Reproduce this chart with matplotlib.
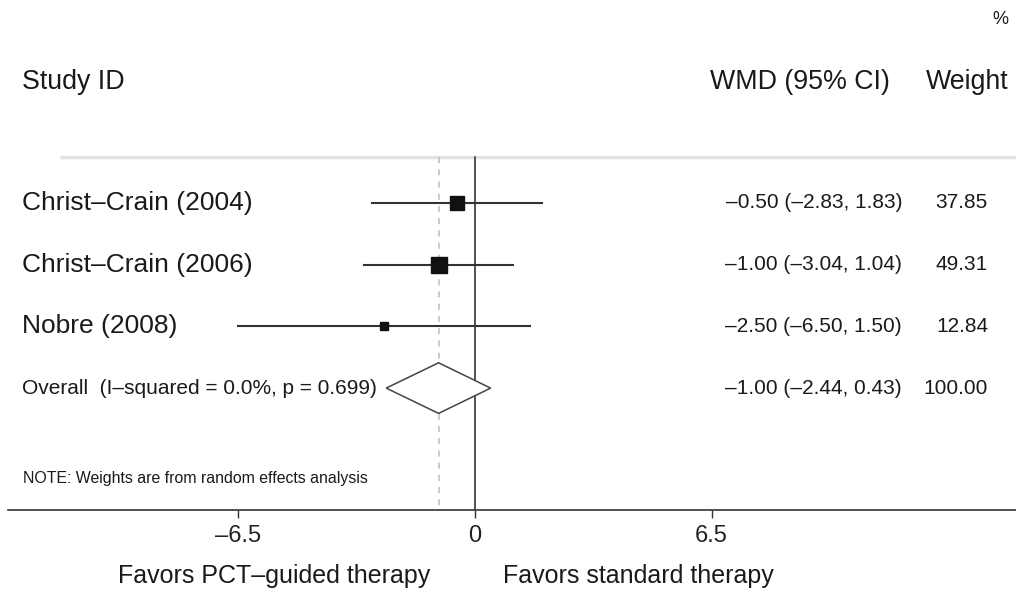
import matplotlib
matplotlib.use("Agg")
import matplotlib.pyplot as plt
import numpy as np

plt.rcParams["font.family"] = ["Liberation Sans", "DejaVu Sans"]

studies = ["Christ\u2013Crain (2004)", "Christ\u2013Crain (2006)", "Nobre (2008)"]
wmd = [-0.50, -1.00, -2.50]
ci_low = [-2.83, -3.04, -6.50]
ci_high = [1.83, 1.04, 1.50]
weights = [37.85, 49.31, 12.84]

overall_label = "Overall  (I\u2013squared = 0.0%, p = 0.699)"
overall_wmd = -1.00
overall_low = -2.44
overall_high = 0.43
overall_weight = 100.00

xticks = [-6.5, 0, 6.5]
xtick_labels = ["\u20136.5", "0", "6.5"]
note = "NOTE: Weights are from random effects analysis"
favors_left = "Favors PCT\u2013guided therapy"
favors_right = "Favors standard therapy"

W, H = 1016, 597
PX_PER_UNIT = 36.4
ZERO_PX = 475
ROW0_PX, ROW_STEP = 203, 61.7
AXIS_PX = 510
TXT = "#1a1a1a"


def px_x(p):
    return (p - ZERO_PX) / PX_PER_UNIT


def px_y(p):
    return 1 + (p - ROW0_PX) / ROW_STEP


def fmt(v):
    return f"{v:.2f}".replace("-", "\u2013")


fig = plt.figure(figsize=(W / 100, H / 100), dpi=100)
left = 8 / W
ax = fig.add_axes([left, (H - AXIS_PX) / H, 1 - left, AXIS_PX / H])
ax.set_xlim(px_x(8), px_x(W))
ax.set_ylim(px_y(AXIS_PX), px_y(0))
for s in ["top", "left", "right"]:
    ax.spines[s].set_visible(False)
ax.spines["bottom"].set_color("#333333")
ax.spines["bottom"].set_linewidth(1.2)
ax.set_yticks([])
ax.set_xticks(xticks)
ax.set_xticklabels(xtick_labels, fontsize=17, color="#222222")
ax.tick_params(axis="x", length=6, width=1, color="#333333", pad=5)

rows = np.arange(1, len(studies) + 1)
overall_row = len(studies) + 1
top_line = px_y(157)

# reference lines
ax.plot([px_x(60), px_x(W)], [top_line, top_line], color="#e3e3e3", lw=2.5,
        solid_capstyle="butt", clip_on=False)
ax.plot([0, 0], [top_line, px_y(AXIS_PX)], color="#222222", lw=1.1)
ax.plot([overall_wmd, overall_wmd], [top_line, px_y(AXIS_PX)], color="#bdbdbd",
        lw=1.1, ls=(0, (4, 4)))

# studies
for r, name, e, lo, hi, w in zip(rows, studies, wmd, ci_low, ci_high, weights):
    ax.plot([lo, hi], [r, r], color="#333333", lw=1.5)
    ax.plot(e, r, marker="s", ms=np.sqrt(w) * 1.74, color="#111111", mec="#111111")
    ax.text(px_x(22), r, name, fontsize=19, va="center", ha="left", color=TXT)
    ax.text(px_x(902), r, f"{fmt(e)} ({fmt(lo)}, {fmt(hi)})", fontsize=15,
            va="center", ha="right", color=TXT)
    ax.text(px_x(988), r, f"{w:.2f}", fontsize=15, va="center", ha="right", color=TXT)

# overall diamond
half_h = 0.41
ax.fill([overall_low, overall_wmd, overall_high, overall_wmd, overall_low],
        [overall_row, overall_row - half_h, overall_row, overall_row + half_h, overall_row],
        facecolor="white", edgecolor="#444444", lw=1.1, zorder=3)
ax.text(px_x(22), overall_row, overall_label, fontsize=15, va="center", ha="left", color=TXT)
ax.text(px_x(902), overall_row,
        f"{fmt(overall_wmd)} ({fmt(overall_low)}, {fmt(overall_high)})",
        fontsize=15, va="center", ha="right", color=TXT)
ax.text(px_x(988), overall_row, f"{overall_weight:.2f}", fontsize=15,
        va="center", ha="right", color=TXT)

# headers
hdr_y = px_y(82)
ax.text(px_x(22), hdr_y, "Study ID", fontsize=19.3, va="center", ha="left", color=TXT)
ax.text(px_x(890), hdr_y, "WMD (95% CI)", fontsize=19.3, va="center", ha="right", color=TXT)
ax.text(px_x(1008), hdr_y, "Weight", fontsize=19.3, va="center", ha="right", color=TXT)
ax.text(px_x(1008), px_y(20), "%", fontsize=13, va="center", ha="right", color=TXT)

ax.text(px_x(23), px_y(479), note, fontsize=11.4, va="center", ha="left", color=TXT)

# favors labels
fig.text(430 / W, 1 - 576 / H, favors_left, fontsize=18, ha="right", va="center", color=TXT)
fig.text(503 / W, 1 - 576 / H, favors_right, fontsize=18, ha="left", va="center", color=TXT)

fig.savefig("out.png", dpi=100, facecolor="white")
